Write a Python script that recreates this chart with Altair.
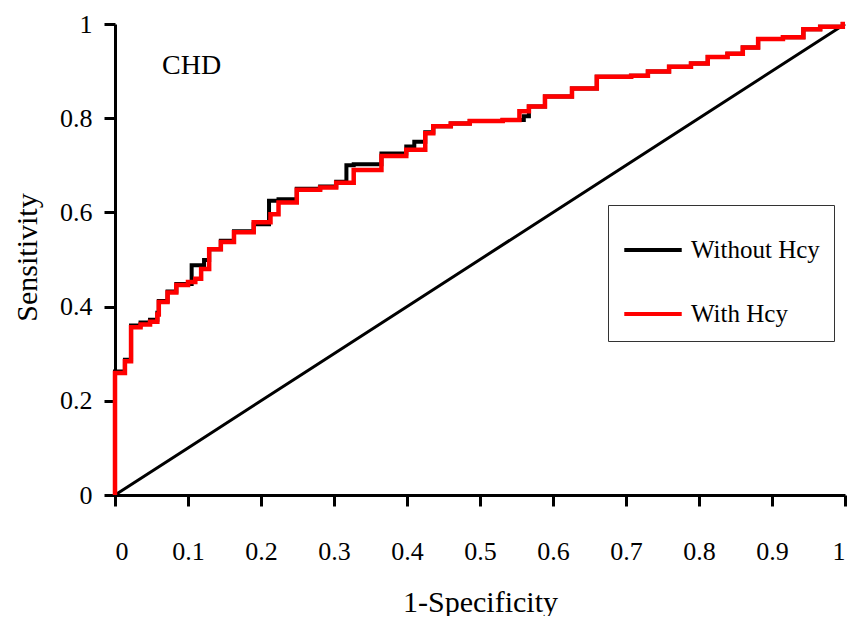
import altair as alt
import pandas as pd

# ROC curve points (1-Specificity, Sensitivity)
with_fpr = [0.0, 0.0, 0.0136, 0.022, 0.035, 0.048, 0.058, 0.060, 0.072, 0.084, 0.100, 0.110,
            0.118, 0.129, 0.145, 0.163, 0.190, 0.213, 0.224, 0.249, 0.281, 0.303, 0.327,
            0.365, 0.399, 0.425, 0.436, 0.460, 0.486, 0.531, 0.554, 0.567, 0.589, 0.626,
            0.660, 0.707, 0.730, 0.759, 0.789, 0.812, 0.839, 0.860, 0.881, 0.915, 0.943,
            0.966, 0.997, 1.0]
with_tpr = [0.0, 0.259, 0.284, 0.356, 0.362, 0.368, 0.383, 0.410, 0.430, 0.446, 0.452, 0.459,
            0.480, 0.522, 0.537, 0.558, 0.579, 0.596, 0.621, 0.648, 0.653, 0.663, 0.690,
            0.720, 0.733, 0.768, 0.783, 0.789, 0.794, 0.796, 0.815, 0.825, 0.846, 0.863,
            0.888, 0.890, 0.899, 0.909, 0.916, 0.930, 0.937, 0.950, 0.968, 0.972, 0.989,
            0.994, 1.0, 1.0]

without_fpr = [0.0, 0.0, 0.0136, 0.022, 0.035, 0.048, 0.058, 0.060, 0.072, 0.084, 0.105, 0.122,
               0.129, 0.145, 0.163, 0.190, 0.211, 0.224, 0.249, 0.281, 0.303, 0.317, 0.327,
               0.365, 0.399, 0.410, 0.425, 0.436, 0.460, 0.486, 0.531, 0.560, 0.567, 0.589,
               0.626, 0.660, 0.707, 0.730, 0.759, 0.789, 0.812, 0.839, 0.860, 0.881, 0.915,
               0.943, 0.966, 0.997, 1.0]
without_tpr = [0.0, 0.262, 0.287, 0.360, 0.366, 0.372, 0.387, 0.412, 0.432, 0.448, 0.488, 0.499,
               0.522, 0.540, 0.560, 0.575, 0.625, 0.628, 0.650, 0.655, 0.665, 0.700, 0.702,
               0.725, 0.740, 0.750, 0.770, 0.783, 0.789, 0.794, 0.796, 0.804, 0.825, 0.846,
               0.863, 0.888, 0.890, 0.899, 0.909, 0.916, 0.930, 0.937, 0.950, 0.968, 0.972,
               0.989, 0.994, 1.0, 1.0]

# reference (chance) diagonal
diag_x = [0.0, 0.1, 0.25, 0.5, 0.75, 1.0]
diag_y = [0.0, 0.1, 0.25, 0.5, 0.75, 1.0]

series_names = ["Without Hcy", "With Hcy"]
series_colors = ["#000000", "#ff0000"]
x_ticks = [0, 0.1, 0.2, 0.3, 0.4, 0.5, 0.6, 0.7, 0.8, 0.9, 1]
y_ticks = [0, 0.2, 0.4, 0.6, 0.8, 1]
label_text = ["CHD"]
label_x = [0.105]
label_y = [0.91]

df_with = pd.DataFrame({"fpr": with_fpr, "tpr": with_tpr, "model": "With Hcy"})
df_without = pd.DataFrame({"fpr": without_fpr, "tpr": without_tpr, "model": "Without Hcy"})
df_diag = pd.DataFrame({"fpr": diag_x, "tpr": diag_y})
df_lab = pd.DataFrame({"t": label_text, "x": label_x, "y": label_y})

SERIF = "Liberation Serif"

xs = alt.Scale(domain=[0, 1], nice=False)
ys = alt.Scale(domain=[0, 1], nice=False)
color = alt.Color(
    "model:N",
    scale=alt.Scale(domain=series_names, range=series_colors),
    legend=alt.Legend(
        title=None, orient="none", legendX=493, legendY=181,
        symbolType="stroke", symbolSize=3300, symbolStrokeWidth=4,
        labelFont=SERIF, labelFontSize=25, labelColor="black", labelOffset=7,
        padding=14, rowPadding=20, strokeColor="#333333", fillColor="white",
        labelLimit=300,
    ),
)

xenc = alt.X("fpr:Q", scale=xs, title="1-Specificity",
             axis=alt.Axis(values=x_ticks, format="~g", labelPadding=32,
                           titleY=116, titleBaseline="alphabetic"))
yenc = alt.Y("tpr:Q", scale=ys, title="Sensitivity",
             axis=alt.Axis(values=y_ticks, format="~g", labelPadding=12,
                           titleX=-88, titleY=233, titleBaseline="middle"))

diag = alt.Chart(df_diag).mark_line(color="black", strokeWidth=3).encode(x=xenc, y=yenc)
black = alt.Chart(df_without).mark_line(strokeWidth=4, interpolate="step-after").encode(
    x=xenc, y=yenc, color=color)
red = alt.Chart(df_with).mark_line(strokeWidth=4.5, interpolate="step-after").encode(
    x=xenc, y=yenc, color=color)
lab = alt.Chart(df_lab).mark_text(font=SERIF, fontSize=28, color="black").encode(
    x=alt.X("x:Q", scale=xs), y=alt.Y("y:Q", scale=ys), text="t:N")

chart = alt.layer(diag, black, red, lab).properties(
    width=730, height=471,
    autosize=alt.AutoSizeParams(type="none"),
    padding={"left": 107, "top": 16, "right": 7, "bottom": 121},
).configure_view(stroke=None).configure_axis(
    grid=False, domainColor="black", domainWidth=3, tickColor="black", tickWidth=3,
    tickSize=11, labelFont=SERIF, labelFontSize=26, labelColor="black",
    titleFont=SERIF, titleFontSize=30, titleFontWeight="normal", titleColor="black",
)

chart.save("out.html", embed_options={"renderer": "svg", "actions": False})
